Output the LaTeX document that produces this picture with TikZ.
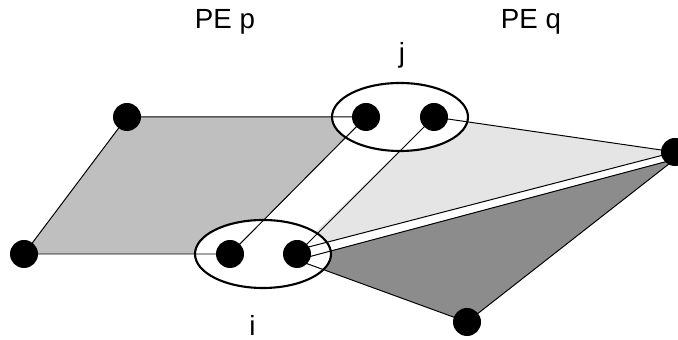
\documentclass[tikz,border=0pt]{standalone}
\usepackage{fontspec}
\setmainfont{Liberation Sans}
\usepackage{xcolor}
\usetikzlibrary{positioning,shapes.geometric}

\begin{document}
\begin{tikzpicture}[
    font=\fontsize{19.7}{24}\selectfont,
    vertexdot/.style={circle, fill=black, inner sep=0pt, minimum size=7mm},
    groupring/.style={ellipse, draw, line width=1.5pt, fill=white, inner sep=0pt,
                      minimum width=3.4cm, minimum height=1.7cm},
    edge/.style={line width=0.7pt},
    pelabel/.style={inner sep=0pt}
]
\useasboundingbox (0,0) rectangle (16.95,8.5);

% --- Ends of the two split edges towards the right vertex ---
\coordinate (upperA) at (7.425,2.25);
\coordinate (upperB) at (16.875,4.70);
\coordinate (lowerA) at (7.425,2.00);
\coordinate (lowerB) at (16.875,4.52);

% --- Corners of the three faces ---
\coordinate (pA) at (3.175,5.575);
\coordinate (pB) at (9.15,5.575);
\coordinate (pC) at (5.75,2.15);
\coordinate (pD) at (0.6,2.15);
\coordinate (qA) at (10.85,5.575);
\coordinate (qB) at (7.425,2.15);
\coordinate (qC) at (11.675,0.45);

% Faces
\fill[gray!50] (pA) -- (pB) -- (pC) -- (pD) -- cycle;
\fill[gray!20] (qA) -- (upperB) -- (upperA) -- cycle;
\fill[gray!90] (lowerA) -- (lowerB) -- (qC) -- cycle;

% Rings round the shared vertices
\node[groupring] (ringj) at (10,5.575) {};
\node[groupring] (ringi) at (6.575,2.15) {};

% Edges
\draw[edge] (pD) -- (pA) -- (pB) -- (pC) -- (pD);
\draw[edge] (qB) -- (qA) -- (upperB);
\draw[edge] (upperA) -- (upperB);
\draw[edge] (lowerA) -- (lowerB) -- (qC) -- (lowerA);

% --- Vertices ---
\node[vertexdot] (v1) at (pA) {};
\node[vertexdot] (v2) at (pB) {};
\node[vertexdot] (v3) at (qA) {};
\node[vertexdot] (v4) at (upperB) {};
\node[vertexdot] (v5) at (pD) {};
\node[vertexdot] (v6) at (pC) {};
\node[vertexdot] (v7) at (qB) {};
\node[vertexdot] (v8) at (qC) {};

% --- Labels ---
\node[pelabel] (pep) at (5.625,7.95) {PE p};
\node[pelabel] (peq) at (13.275,7.95) {PE q};
\node[pelabel] (lblj) at (10.05,7.11) {j};
\node[pelabel] (lbli) at (6.31,0.36) {i};

\end{tikzpicture}
\end{document}
